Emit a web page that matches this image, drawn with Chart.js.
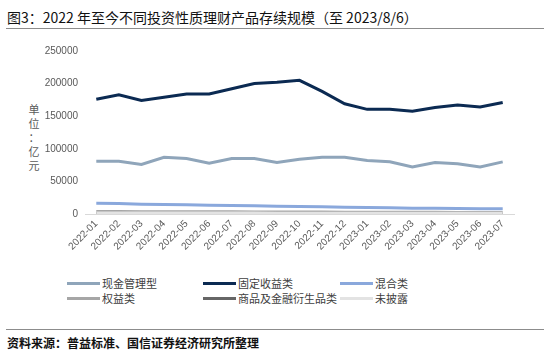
<!DOCTYPE html>
<html lang="zh-CN">
<head>
<meta charset="UTF-8">
<title>理财产品存续规模</title>
<script src="https://cdn.jsdelivr.net/npm/chart.js"></script>
<style>
  body { margin: 0; width: 550px; height: 353px; background: #fff; position: relative; overflow: hidden;
         font-family: "Liberation Sans", "Noto Sans CJK SC", sans-serif; }
  .title { position: absolute; left: 7px; top: 7px; font-size: 14px; color: #111; font-family: "Noto Sans CJK SC", sans-serif; }
  .rule-top { position: absolute; left: 6px; right: 6px; top: 28px; border-top: 1.5px solid #8c8c8c; }
  .rule-bot { position: absolute; left: 6px; right: 6px; top: 329px; border-top: 1.5px solid #8c8c8c; }
  .source { position: absolute; left: 7px; top: 334px; font-size: 12px; color: #111; font-weight: bold; font-family: "Noto Sans CJK SC", sans-serif; }
  .ytitle { position: absolute; left: 27px; top: 102px; width: 14px; font-size: 11px; line-height: 14px; color: #595959; text-align: center; font-family: "Noto Sans CJK SC", sans-serif; }
  #chartBox { position: absolute; left: 0; top: 38px; width: 550px; height: 228px; }
  #legend { position: absolute; left: 67px; top: 276px; display: grid; grid-template-columns: 136px 137px 120px; row-gap: 1px;
            font-size: 11px; color: #404040; font-family: "Noto Sans CJK SC", sans-serif; }
  #legend div { display: flex; align-items: center; height: 14px; white-space: nowrap; }
  #legend span.sw { display: inline-block; width: 33px; height: 3px; margin-right: 2px; }
</style>
</head>
<body>
<div class="title">图3：2022 年至今不同投资性质理财产品存续规模（至 2023/8/6）</div>
<div class="rule-top"></div>
<div class="ytitle">单<br>位<br>：<br>亿<br>元</div>
<div id="chartBox"><canvas id="chart"></canvas></div>
<div id="legend"></div>
<div class="rule-bot"></div>
<div class="source">资料来源：普益标准、国信证券经济研究所整理</div>

<script>
// 月份
const months = ['2022-01','2022-02','2022-03','2022-04','2022-05','2022-06','2022-07','2022-08','2022-09','2022-10',
                '2022-11','2022-12','2023-01','2023-02','2023-03','2023-04','2023-05','2023-06','2023-07'];

// 各类产品存续规模（亿元，读图估计）
const xianjin = [81000, 81000, 76000, 87000, 85000, 78000, 85000, 85000, 79000, 84000,
                 87000, 87000, 82000, 80000, 72000, 79000, 77000, 72000, 80000];
const guding  = [176000, 183000, 174000, 179000, 184000, 184000, 192000, 200000, 202000, 205000,
                 188000, 169000, 160500, 160500, 157500, 163500, 167000, 164000, 171000];
const hunhe   = [16500, 16000, 15000, 14500, 14000, 13500, 13000, 12500, 12000, 11500,
                 11000, 10500, 10000, 9500, 9000, 9000, 8500, 8000, 8000];
const quanyi  = [3800, 3700, 3600, 3500, 3400, 3300, 3300, 3200, 3100, 3000,
                 2900, 2800, 2700, 2600, 2500, 2500, 2400, 2400, 2300];
const shangpin = [200, 200, 200, 200, 200, 200, 200, 200, 200, 200,
                  200, 200, 200, 200, 200, 200, 200, 200, 200];
const weipilu = [1600, 1600, 1500, 1500, 1500, 1400, 1400, 1400, 1300, 1300,
                 1300, 1200, 1200, 1200, 1100, 1100, 1100, 1000, 1000];

const yTicks = [0, 50000, 100000, 150000, 200000, 250000];

const series = [
  { label: '现金管理型', data: xianjin, color: '#8fa5ba' },
  { label: '固定收益类', data: guding, color: '#0b2a52' },
  { label: '混合类', data: hunhe, color: '#8aa8dc' },
  { label: '权益类', data: quanyi, color: '#a6a6a6' },
  { label: '商品及金融衍生品类', data: shangpin, color: '#666666' },
  { label: '未披露', data: weipilu, color: '#e3e3e3' }
];

new Chart(document.getElementById('chart'), {
  type: 'line',
  data: {
    labels: months,
    datasets: series.map(s => ({
      label: s.label,
      data: s.data,
      borderColor: s.color,
      backgroundColor: s.color,
      borderWidth: 3,
      pointRadius: 0,
      tension: 0,
      fill: false
    })).reverse()
  },
  options: {
    responsive: true,
    maintainAspectRatio: false,
    animation: false,
    layout: { padding: { top: 10, right: 36, left: 0, bottom: 0 } },
    plugins: { legend: { display: false }, tooltip: { enabled: false } },
    scales: {
      x: {
        offset: true,
        grid: { display: false, drawTicks: false },
        border: { color: '#d9d9d9', width: 1 },
        ticks: { color: '#595959', font: { size: 10, family: '"Liberation Sans", sans-serif' },
                 maxRotation: 45, minRotation: 45, autoSkip: false, padding: 4 },
        afterFit: s => { s.height = 52; }
      },
      y: {
        min: 0, max: 250000,
        afterBuildTicks: s => { s.ticks = yTicks.map(v => ({ value: v })); },
        grid: { display: false, drawTicks: false },
        border: { display: false },
        ticks: { color: '#595959', font: { size: 10, family: '"Liberation Sans", sans-serif' }, padding: 7,
                 callback: v => String(v) },
        afterFit: s => { s.width = 85; }
      }
    }
  }
});

// 图例
const legend = document.getElementById('legend');
series.forEach(s => {
  const d = document.createElement('div');
  d.innerHTML = '<span class="sw" style="background:' + s.color + '"></span>' + s.label;
  legend.appendChild(d);
});
</script>
</body>
</html>
